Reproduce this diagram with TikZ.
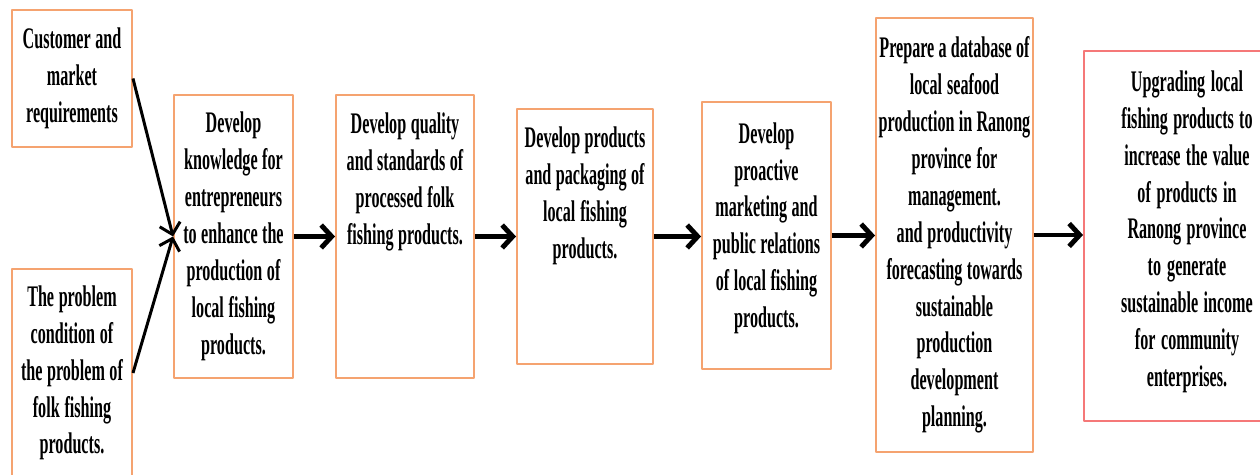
\documentclass[tikz,border=0pt]{standalone}
\usepackage{fontspec}
\usepackage{tikz}
\usetikzlibrary{arrows.meta}
\usetikzlibrary{positioning}
\newfontfamily\schmal[FakeStretch=0.54]{Liberation Serif}
\definecolor{kastenorange}{rgb}{0.96,0.64,0.44}
\definecolor{kastenrot}{rgb}{0.96,0.47,0.47}

\begin{document}
\begin{tikzpicture}[line cap=round,line join=round,
    kasten/.style={draw=kastenorange, line width=1.1pt, inner xsep=1pt, align=center,
        font=\schmal\bfseries\fontsize{17pt}{21pt}\selectfont,
        execute at begin node={\spaceskip=2.4pt plus 1pt\relax}},
    obenkasten/.style={kasten, anchor=north, inner ysep=0.2cm, text height=0.58cm},
    pfeil/.style={-{Straight Barb[length=6pt, width=13pt]}, line width=2.8pt, line cap=butt},
    schraeg/.style={-{Straight Barb[length=6pt, width=12pt]}, line width=1.7pt, line cap=butt}]
    \path[use as bounding box, clip] (0,0) rectangle (25.2,9.5);
    % Eingangskästen links
    \node[kasten, text width=2.33cm, minimum height=2.74cm] (kunde) at (1.44,7.93)
        {Customer and\\ market\\ requirements};
    \node[kasten, text width=2.33cm, minimum height=4.16cm] (problem) at (1.44,2.04)
        {The problem\\ condition of\\ the problem of\\ folk fishing\\ products.};
    % Kette der Schritte
    \node[kasten, text width=2.31cm, minimum height=5.66cm] (wissen) at (4.67,4.77)
        {Develop\\ knowledge for\\ entrepreneurs\\ to enhance the\\ production of\\ local fishing\\ products.};
    \node[obenkasten, text width=2.69cm, text depth=4.68cm] (qualitaet) at (8.10,7.62)
        {Develop quality\\ and standards of\\ processed folk\\ fishing products.};
    \node[obenkasten, text width=2.65cm, text depth=4.12cm] (verpackung) at (11.70,7.34)
        {Develop products\\ and packaging of\\ local fishing\\ products.};
    \node[kasten, text width=2.51cm, minimum height=5.34cm] (marketing) at (15.33,4.79)
        {Develop\\ proactive\\ marketing and\\ public relations\\ of local fishing\\ products.\\[-0.32cm]\mbox{}};
    \node[kasten, text width=3.07cm, minimum height=8.68cm] (datenbank) at (19.09,4.80)
        {Prepare a database of\\ local seafood\\ production in Ranong\\ province for\\ management.\\ and productivity\\ forecasting towards\\ sustainable\\ production\\ development\\ planning.};
    \node[kasten, draw=kastenrot, text width=4.05cm, minimum height=7.40cm] (ziel) at (23.74,4.78)
        {Upgrading local\\ fishing products to\\ increase the value\\ of products in\\ Ranong province\\ to generate\\ sustainable income\\ for community\\ enterprises.\\[-0.44cm]\mbox{}};
    % Pfeile
    \draw[schraeg] (kunde.east) -- (wissen.west);
    \draw[schraeg] (problem.east) -- (wissen.west);
    \draw[pfeil] (wissen.east) -- (wissen.east -| qualitaet.west);
    \draw[pfeil] (wissen.east -| qualitaet.east) -- (wissen.east -| verpackung.west);
    \draw[pfeil] (wissen.east -| verpackung.east) -- (wissen.east -| marketing.west);
    \draw[pfeil] (marketing.east) -- (marketing.east -| datenbank.west);
    \draw[pfeil] (datenbank.east) -- (datenbank.east -| ziel.west);
\end{tikzpicture}
\end{document}
